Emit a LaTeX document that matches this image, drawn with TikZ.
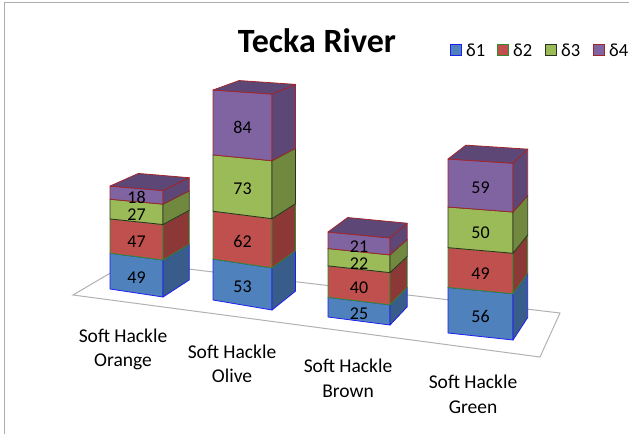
\documentclass[tikz,border=0pt]{standalone}
\usepackage{fontspec}
\setmainfont{Carlito}
\usetikzlibrary{calc, positioning}

\definecolor{face1}{HTML}{4F81BD}
\definecolor{face2}{HTML}{C0504D}
\definecolor{face3}{HTML}{9BBB59}
\definecolor{face4}{HTML}{8064A2}
\definecolor{side1}{HTML}{385D8A}
\definecolor{side2}{HTML}{8C3836}
\definecolor{side3}{HTML}{71893F}
\definecolor{side4}{HTML}{5C4776}
\definecolor{edge1}{HTML}{1E1EF0}
\definecolor{edge2}{HTML}{2E8B2E}
\definecolor{edge3}{HTML}{2A331E}
\definecolor{edge4}{HTML}{A0262B}

% one stacked column: name, left x, right x, left/right foot y,
% left/right px per unit, depth factor, list lo/hi/value
\newcommand{\drawstack}[9]{%
  \foreach \lo/\hi/\v [count=\i] in {#9} {
    \coordinate (#1-a) at (#2,{#4-#6*\lo});
    \coordinate (#1-b) at (#3,{#5-#7*\lo});
    \coordinate (#1-c) at (#3,{#5-#7*\hi});
    \coordinate (#1-d) at (#2,{#4-#6*\hi});
    \draw[frontface=\i] (#1-a) -- (#1-b) -- (#1-c) -- (#1-d) -- cycle;
    \draw[sideface=\i] (#1-b) -- ($(#1-b)!#8!(vp)$) -- ($(#1-c)!#8!(vp)$) -- (#1-c) -- cycle;
    \node[num] (#1-n\i) at ($(#1-a)!0.5!(#1-c) + (0,3)$) {\v};
  }
  % lid of the column
  \draw[sideface=4] (#1-d) -- (#1-c) -- ($(#1-c)!#8!(vp)$) -- ($(#1-d)!#8!(vp)$) -- cycle;
}

\begin{document}
\begin{tikzpicture}[x=1pt, y=-1pt,
  frontface/.style={fill=face#1, draw=edge#1, line width=0.8pt, line join=round},
  sideface/.style={fill=side#1, draw=edge#1, line width=0.8pt, line join=round},
  num/.style={inner sep=0pt, font=\fontsize{18}{21}\selectfont},
  cat/.style={align=center, inner sep=0pt, font=\fontsize{19.5}{24.5}\selectfont},
  legbox/.style={minimum size=11pt, inner sep=0pt, line width=1pt}]
\useasboundingbox (0,0) rectangle (629,434);
% chart frame, only top and left are in view
\draw[gray!65, line width=1.2pt] (4.7,434) -- (4.7,2.3) -- (629,2.3);
\coordinate (vp) at (820,-130);

% title and key
\node[font=\bfseries\fontsize{34}{40}\selectfont] (title) at (317,41) {Tecka River};
\foreach \i/\x in {1/450,2/497,3/545,4/593} {
    \node[legbox, fill=face\i, draw=edge\i] (key\i) at (\x+6,50) {};
    \node[anchor=west, inner sep=0pt, font=\fontsize{18.5}{22}\selectfont] (keylab\i) at (\x+16,50) {δ\i};
}

% floor plane
\draw[gray!60, fill=white, line width=1pt] (73,295) -- (129,262) -- (560,313) -- (540,357) -- cycle;

% the four columns
\drawstack{orange}{110}{163}{289}{297}{0.73}{0.755}{0.04}{0/49/49, 49/96/47, 96/123/27, 123/141/18}
\drawstack{olive}{213}{272}{300}{310}{0.772}{0.794}{0.043}{0/53/53, 53/115/62, 115/188/73, 188/272/84}
\drawstack{brown}{328}{390}{317}{325}{0.787}{0.806}{0.04}{0/25/25, 25/65/40, 65/87/22, 87/108/21}
\drawstack{green}{448}{513}{333}{340}{0.813}{0.826}{0.048}{0/56/56, 56/105/49, 105/155/50, 155/214/59}

% category names
\node[cat] (catorange) at (123,349.5) {Soft Hackle\\Orange};
\node[cat] (catolive) at (232,364) {Soft Hackle\\Olive};
\node[cat] (catbrown) at (348,378.5) {Soft Hackle\\Brown};
\node[cat] (catgreen) at (473,394.5) {Soft Hackle\\Green};
\end{tikzpicture}
\end{document}
